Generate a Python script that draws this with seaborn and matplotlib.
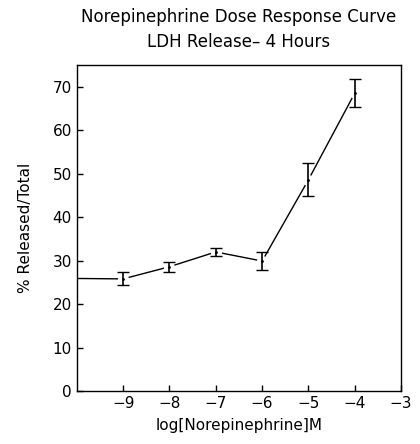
import numpy as np
import pandas as pd
import matplotlib
matplotlib.use("Agg")
import matplotlib.pyplot as plt
import seaborn as sns

# values
log_dose = [-10, -9, -8, -7, -6, -5, -4]
released = [25.9, 25.8, 28.6, 32.0, 29.9, 48.6, 68.5]
sem = [0.0, 1.5, 1.1, 0.9, 2.0, 3.8, 3.2]

df = pd.DataFrame({"dose": log_dose, "pct": released, "err": sem})

sns.set_theme(style="white")
plt.rcParams["font.family"] = ["DejaVu Sans"]

fig = plt.figure(figsize=(4.2, 4.44), dpi=100)
ax = fig.add_axes([0.183, 0.119, 0.772, 0.735])

sns.lineplot(data=df, x="dose", y="pct", color="black", linewidth=1.0, ax=ax, zorder=1)

# small white gaps around the measured points, like the original plot
pts = df[df["err"] > 0]
ax.plot(pts["dose"], pts["pct"], "o", ms=7, mfc="white", mec="white", zorder=2)
ax.errorbar(pts["dose"], pts["pct"], yerr=pts["err"], fmt=".", ms=2,
            color="black", ecolor="black", elinewidth=1.2, capsize=4, capthick=1.0, zorder=3)

ax.set_xlim(-10, -3)
ax.set_ylim(0, 75)
ax.set_xticks([-9, -8, -7, -6, -5, -4, -3])
ax.set_xticklabels(["\u22129", "\u22128", "\u22127", "\u22126", "\u22125", "\u22124", "\u22123"])
ax.set_yticks(range(0, 71, 10))

for s in ax.spines.values():
    s.set_color("black")
    s.set_linewidth(1.0)

ax.tick_params(direction="in", length=4, width=1, colors="black", labelsize=11,
               bottom=True, left=True, top=False, right=False)

ax.set_xlabel("log[Norepinephrine]M", fontsize=11, color="black", labelpad=5)
ax.set_ylabel("% Released/Total", fontsize=11, color="black", labelpad=14)
ax.set_title("Norepinephrine Dose Response Curve\nLDH Release\u2013 4 Hours",
             fontsize=12, color="black", pad=13, linespacing=1.45)

fig.savefig("out.png", dpi=100)
